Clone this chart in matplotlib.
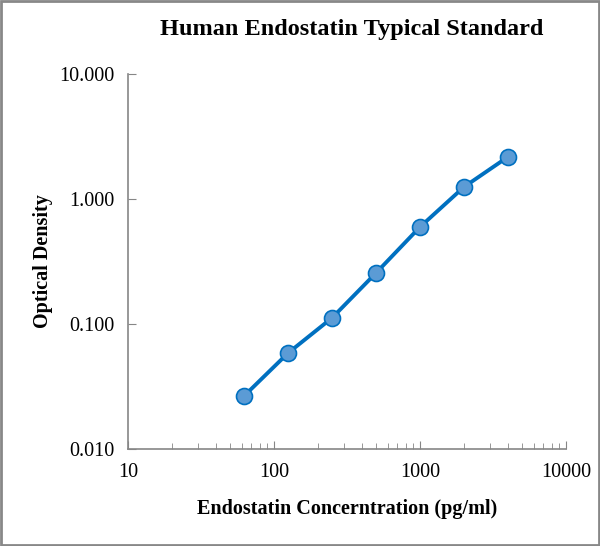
import numpy as np
import matplotlib.pyplot as plt
from matplotlib.ticker import FixedLocator, FixedFormatter, LogLocator, NullFormatter
from matplotlib.patches import Rectangle

# standard curve readings
conc = [62.5, 125, 250, 500, 1000, 2000, 4000]
od = [0.0266, 0.0586, 0.112, 0.256, 0.597, 1.247, 2.17]

x_ticks = [10, 100, 1000, 10000]
x_labels = ["10", "100", "1000", "10000"]
y_ticks = [0.01, 0.1, 1, 10]
y_labels = ["0.010", "0.100", "1.000", "10.000"]

LINE_COLOR = "#0070C0"
MARKER_COLOR = "#5B9BD5"
AXIS_COLOR = "#868686"

plt.rcParams["font.family"] = ["Liberation Serif", "DejaVu Serif"]

fig = plt.figure(figsize=(6, 5.46), dpi=100)
ax = fig.add_axes([0.2133, 0.1777, 0.73, 0.6868])

ax.plot(conc, od, color=LINE_COLOR, linewidth=2.8, zorder=2)
ax.plot(conc, od, linestyle="none", marker="o", markersize=11.5,
        markerfacecolor=MARKER_COLOR, markeredgecolor=LINE_COLOR,
        markeredgewidth=1.2, zorder=3)

ax.set_xscale("log")
ax.set_yscale("log")
ax.set_xlim(10, 10000)
ax.set_ylim(0.01, 10)

ax.xaxis.set_major_locator(FixedLocator(x_ticks))
ax.xaxis.set_major_formatter(FixedFormatter(x_labels))
ax.yaxis.set_major_locator(FixedLocator(y_ticks))
ax.yaxis.set_major_formatter(FixedFormatter(y_labels))
ax.xaxis.set_minor_locator(LogLocator(base=10, subs=np.arange(2, 10)))
ax.xaxis.set_minor_formatter(NullFormatter())
ax.yaxis.set_minor_locator(FixedLocator([]))

ax.tick_params(axis="both", which="major", direction="in", length=6,
               color=AXIS_COLOR, labelsize=14.5, pad=10)
ax.tick_params(axis="x", which="minor", direction="in", length=4, color=AXIS_COLOR)

for side in ["top", "right"]:
    ax.spines[side].set_visible(False)
for side in ["left", "bottom"]:
    ax.spines[side].set_color(AXIS_COLOR)
    ax.spines[side].set_linewidth(1.2)

ax.set_title("Human Endostatin Typical Standard", fontsize=17.5, fontweight="bold",
             pad=28, x=0.51)
ax.set_xlabel("Endostatin Concerntration (pg/ml)", fontsize=14.5, fontweight="bold", labelpad=12)
ax.set_ylabel("Optical Density", fontsize=14.5, fontweight="bold")
ax.yaxis.set_label_coords(-0.172, 0.5)

# grey frame round the whole picture
fig.patches.append(Rectangle((0.002, 0.002), 0.996, 0.996, transform=fig.transFigure,
                             fill=False, edgecolor="#888888", linewidth=2))

fig.savefig("out.png", dpi=100)
